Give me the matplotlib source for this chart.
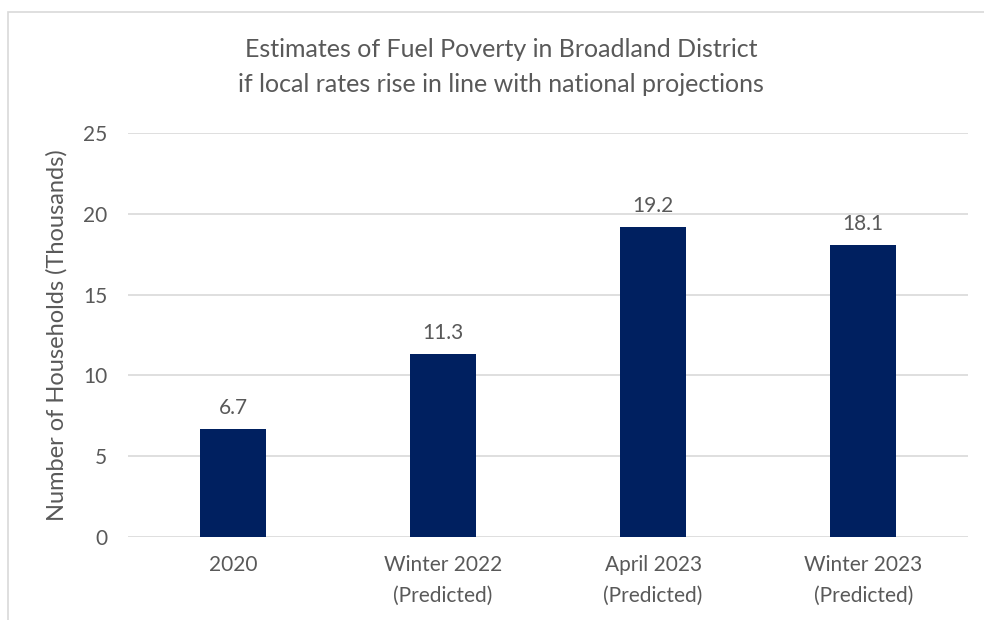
import matplotlib
matplotlib.use('Agg')
import matplotlib.pyplot as plt
from matplotlib.patches import Rectangle

# --- Data ---
categories = ['2020', 'Winter 2022\n(Predicted)', 'April 2023\n(Predicted)', 'Winter 2023\n(Predicted)']
households = [6.7, 11.3, 19.2, 18.1]
y_ticks = [0, 5, 10, 15, 20, 25]

TEXT = '#595959'
BAR = '#002060'
GRID = '#D9D9D9'

plt.rcParams['font.family'] = ['Lato', 'DejaVu Sans']

fig = plt.figure(figsize=(9.84, 6.2), dpi=100)
ax = fig.add_axes([0.130, 0.134, 0.854, 0.651])

# chart border (cropped at right and bottom)
fig.patches.append(Rectangle((8 / 984, -0.1), 1.2, 1 - 12 / 620 + 0.1,
                             transform=fig.transFigure, fill=False,
                             edgecolor=GRID, linewidth=1.2))

x = range(len(categories))
bars = ax.bar(x, households, width=0.315, color=BAR, zorder=3)

for b, v in zip(bars, households):
    ax.annotate(f'{v}', (b.get_x() + b.get_width() / 2, v),
                xytext=(0, 8), textcoords='offset points',
                ha='center', va='bottom', fontsize=15, color=TEXT)

ax.set_xlim(-0.5, len(categories) - 0.5)
ax.set_ylim(0, 25)
ax.set_yticks(y_ticks)
ax.set_xticks(list(x))
ax.set_xticklabels(categories, linespacing=1.7)
ax.tick_params(axis='both', length=0, labelsize=15, colors=TEXT)
ax.tick_params(axis='y', pad=15)
ax.tick_params(axis='x', pad=13)
ax.grid(axis='y', color=GRID, linewidth=1.2, zorder=0)
for s in ax.spines.values():
    s.set_visible(False)

ax.set_ylabel('Number of Households (Thousands)', fontsize=17, color=TEXT)
ax.yaxis.set_label_coords(-0.072, 0.5)

fig.text(0.509, 0.892, 'Estimates of Fuel Poverty in Broadland District\nif local rates rise in line with national projections',
         ha='center', va='center', fontsize=18, color=TEXT, linespacing=1.65)

fig.savefig('out.png', dpi=100)
